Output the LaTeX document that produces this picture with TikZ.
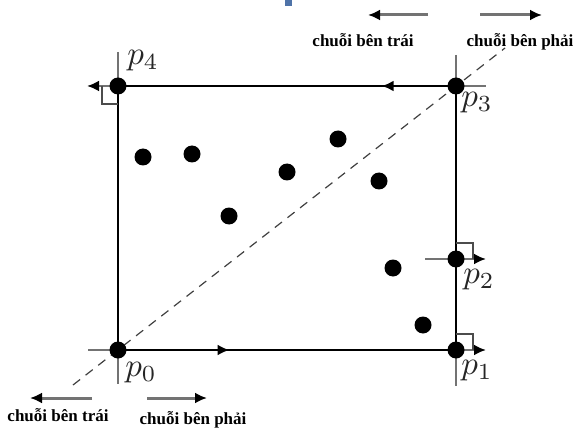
\documentclass[tikz,border=0pt]{standalone}
\usepackage{fontspec}
\setmainfont{Liberation Serif}
\usetikzlibrary{arrows.meta,decorations.markings,backgrounds}

\definecolor{slideblue}{HTML}{4F73A8}
\newcommand{\pname}[1]{$p_{#1}$}

\begin{document}
\begin{tikzpicture}[
    x=1pt, y=-1pt,
    dot/.style={circle, fill=black, inner sep=0pt, minimum size=17pt},
    edge/.style={line width=2.6pt, black},
    tick/.style={line width=1.8pt, black!55},
    rmark/.style={line width=1.3pt, black!70},
    hint/.style={line width=2.4pt, black!55, -{Latex[length=12pt,width=11pt,color=black]}},
    dir/.style={font=\fontsize{17}{17}\selectfont\bfseries, inner sep=0pt, anchor=base},
    pl/.style={text=black!85, inner sep=0pt, scale=3.3},
    midarrow/.style={postaction={decorate}, decoration={markings,
        mark=at position #1 with {\arrow{Latex[length=12pt,width=11pt]}}}},
]
    \useasboundingbox (0,0) rectangle (577,430);
    \fill[slideblue] (285,0) rectangle (292,6);

    % corners of the box
    \node[dot] (p0) at (118,350) {};
    \node[dot] (p1) at (456,350) {};
    \node[dot] (p2) at (456,259) {};
    \node[dot] (p3) at (456,86) {};
    \node[dot] (p4) at (118,86) {};

    % point set
    \foreach \x/\y [count=\i] in {143/157, 192/154, 229/216, 287/172,
                                  338/139, 379/181, 393/268, 423/325}
        \node[dot] (s\i) at (\x,\y) {};

    \coordinate (dA) at (73,385);
    \coordinate (dB) at (505,48);
    \coordinate (p0w) at (88,350);
    \coordinate (p0s) at (118,384);
    \coordinate (p1s) at (456,386);
    \coordinate (p1e) at (486,350);
    \coordinate (p2w) at (425,259);
    \coordinate (p2e) at (486,259);
    \coordinate (p3n) at (456,55);
    \coordinate (p3e) at (486,86);
    \coordinate (p4n) at (118,52);
    \coordinate (p4w) at (87,86);

    \begin{scope}[on background layer]
        \draw[dashed, line width=1.2pt, black!75, dash pattern=on 9pt off 7pt] (dA) -- (dB);
        \draw[edge, midarrow=0.33] (p0.center) -- (p1.center);
        \draw[edge] (p1.center) -- (p3.center);
        \draw[edge, midarrow=0.22] (p3.center) -- (p4.center);
        \draw[edge] (p4.center) -- (p0.center);
        % axes at the corners
        \draw[tick] (p0w) -- (p0.center) -- (p0s);
        \draw[tick] (p1.center) -- (p1s);
        \draw[hint] (p1.center) -- (p1e);
        \draw[tick] (p2w) -- (p2.center);
        \draw[hint] (p2.center) -- (p2e);
        \draw[tick] (p3n) -- (p3.center) -- (p3e);
        \draw[tick] (p4n) -- (p4.center);
        \draw[hint] (p4.center) -- (p4w);
        % right angle marks
        \draw[rmark] (p1.center) ++(0,-16) -| ++(17,16);
        \draw[rmark] (p2.center) ++(0,-16) -| ++(17,16);
        \draw[rmark] (p4.center) ++(-16,0) |- ++(16,18);
    \end{scope}

    \node[pl] (l0) at (141,373) {\pname{0}};
    \node[pl] (l1) at (477,371) {\pname{1}};
    \node[pl] (l2) at (479,280) {\pname{2}};
    \node[pl] (l3) at (477,103) {\pname{3}};
    \node[pl] (l4) at (143,61) {\pname{4}};

    % chain directions
    \node[dir] (tL) at (363,47) {chuỗi bên trái};
    \node[dir] (tR) at (520,47) {chuỗi bên phải};
    \node[dir] (bL) at (58,421) {chuỗi bên trái};
    \node[dir] (bR) at (193,424) {chuỗi bên phải};
    \coordinate (tL1) at (428,15);
    \coordinate (tL2) at (368,15);
    \coordinate (tR1) at (480,15);
    \coordinate (tR2) at (542,15);
    \coordinate (bL1) at (92,398);
    \coordinate (bL2) at (30,398);
    \coordinate (bR1) at (147,398);
    \coordinate (bR2) at (207,398);
    \draw[hint, line width=3pt] (tL1) -- (tL2);
    \draw[hint, line width=3pt] (tR1) -- (tR2);
    \draw[hint, line width=3pt] (bL1) -- (bL2);
    \draw[hint, line width=3pt] (bR1) -- (bR2);
\end{tikzpicture}
\end{document}
